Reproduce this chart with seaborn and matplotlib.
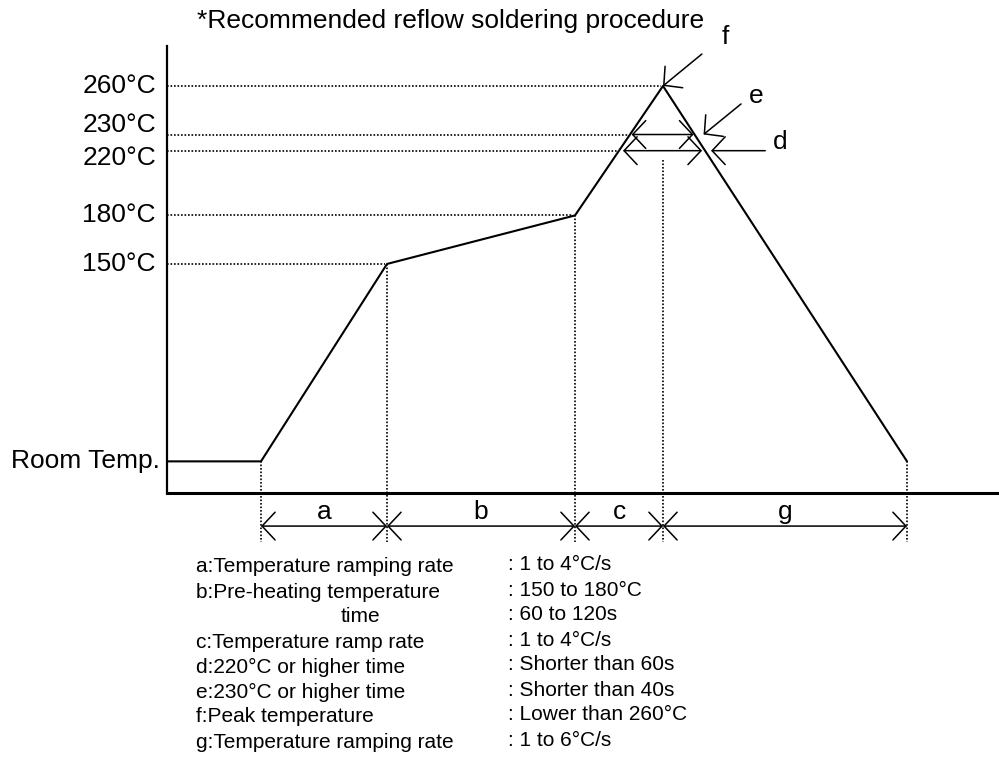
import numpy as np
import matplotlib
matplotlib.use("Agg")
import matplotlib.pyplot as plt
import seaborn as sns

# reflow profile (time in s, schematic)
profile_time = [0, 47, 110, 204, 248, 370]
profile_temp = [28, 28, 150, 180, 260, 28]

levels = [260, 230, 220, 180, 150]
level_labels = ["260°C", "230°C", "220°C", "180°C", "150°C"]
level_label_dy = [0, 7, -5, 0, 0]  # label nudge in points

segment_names = ["a", "b", "c", "g"]
segment_edges = [47, 110, 204, 248, 370]

legend_keys = [
    "a:Temperature ramping rate",
    "b:Pre-heating temperature",
    "c:Temperature ramp rate",
    "d:220°C or higher time",
    "e:230°C or higher time",
    "f:Peak temperature",
    "g:Temperature ramping rate",
]
legend_values = [
    ": 1 to 4°C/s",
    ": 150 to 180°C",
    ": 60 to 120s",
    ": 1 to 4°C/s",
    ": Shorter than 60s",
    ": Shorter than 40s",
    ": Lower than 260°C",
    ": 1 to 6°C/s",
]

sns.set_style("white")
plt.rcParams["font.family"] = ["Liberation Sans", "DejaVu Sans"]
plt.rcParams["text.color"] = "black"

W, H = 999, 770
fig = plt.figure(figsize=(W / 100, H / 100), dpi=100)
ax = fig.add_axes([167 / W, (H - 493) / H, (W - 167) / W, 447 / H])

ymin, ymax = 8.45, 284.7
ax.set_xlim(0, 416)
ax.set_ylim(ymin, ymax)
ax.set_xticks([])
ax.set_yticks([])
sns.despine(ax=ax)
ax.spines["left"].set_linewidth(1.6)
ax.spines["bottom"].set_linewidth(2.2)
ax.spines["left"].set_color("black")
ax.spines["bottom"].set_color("black")

dot = dict(color="black", lw=1.2, ls=(0, (1, 1.1)))
fs = 19

# main profile
sns.lineplot(x=profile_time, y=profile_temp, sort=False, color="black",
             lw=1.5, ax=ax, legend=False)

# rising / falling parts for intersections
rise_t = profile_time[1:5]
rise_T = profile_temp[1:5]
fall_t = profile_time[4:6][::-1]
fall_T = profile_temp[4:6][::-1]


def left_x(T):
    return np.interp(T, rise_T, rise_t)


def right_x(T):
    return np.interp(T, fall_T, fall_t)


# horizontal dotted levels + labels
for T, lab, dy in zip(levels, level_labels, level_label_dy):
    ax.plot([0, left_x(T) - 1], [T, T], **dot)
    ax.annotate(lab, xy=(0, T), xytext=(-8, dy), textcoords="offset points",
                ha="right", va="center", fontsize=fs, annotation_clip=False)

ax.annotate("Room Temp.", xy=(0, profile_temp[0]), xytext=(-5, 0),
            textcoords="offset points", ha="right", va="center",
            fontsize=fs, annotation_clip=False)

# vertical dotted drop lines
y_lo = ymin - 0.11 * (ymax - ymin)
drop_top = [profile_temp[1], profile_temp[2], profile_temp[3], 214, profile_temp[5]]
for x, top in zip(segment_edges, drop_top):
    ax.plot([x, x], [top, y_lo], clip_on=False, **dot)

# dimension arrows under the axis
xtr = ax.get_xaxis_transform()
arr = dict(arrowstyle="<->,head_length=0.47,head_width=0.5", color="black",
           lw=1.1, shrinkA=0, shrinkB=0, mutation_scale=20)
for name, x0, x1 in zip(segment_names, segment_edges[:-1], segment_edges[1:]):
    ax.annotate("", xy=(x1, -0.074), xytext=(x0, -0.074), xycoords=xtr,
                textcoords=xtr, arrowprops=arr, annotation_clip=False)
    ax.text((x0 + x1) / 2, -0.043, name, transform=xtr, ha="center",
            va="center", fontsize=fs)

# 230 / 220 width arrows at the peak
ax.annotate("", xy=(right_x(230) - 0.5, 230), xytext=(left_x(230) + 0.8, 230),
            arrowprops=arr)
ax.annotate("", xy=(right_x(220) - 1.5, 220), xytext=(left_x(220) + 2, 220),
            arrowprops=arr)

# pointer arrows f, e, d
ptr = dict(arrowstyle="->,head_length=0.47,head_width=0.5", color="black",
           lw=1.1, shrinkA=0, shrinkB=0, mutation_scale=20)
peak_t = profile_time[4]
ax.annotate("", xy=(peak_t, 260), xytext=(28, 23), textcoords="offset points",
            arrowprops=ptr)
ax.annotate("f", xy=(peak_t, 260), xytext=(45, 35), textcoords="offset points",
            ha="center", va="center", fontsize=fs)
ax.annotate("", xy=(right_x(230) + 4.5, 230), xytext=(27, 22),
            textcoords="offset points", arrowprops=ptr)
ax.annotate("e", xy=(right_x(230) + 4.5, 230), xytext=(38, 28),
            textcoords="offset points", ha="center", va="center", fontsize=fs)
ax.annotate("", xy=(right_x(220) + 3, 220), xytext=(39, 0),
            textcoords="offset points", arrowprops=ptr)
ax.annotate("d", xy=(right_x(220) + 3, 220), xytext=(50, 6),
            textcoords="offset points", ha="center", va="center", fontsize=fs)

# title
fig.text(197 / W, 1 - 28 / H, "*Recommended reflow soldering procedure",
         ha="left", va="baseline", fontsize=fs)

# legend block below the chart
key_rows = [567, 592, 642, 667, 692, 717, 742]
val_rows = [565, 590, 615, 640, 665, 690, 715, 740]
lfs = 15
for txt, y in zip(legend_keys, key_rows):
    fig.text(196 / W, 1 - y / H, txt, ha="left", va="center", fontsize=lfs)
fig.text(360 / W, 1 - 617 / H, "time", ha="center", va="center", fontsize=lfs)
for txt, y in zip(legend_values, val_rows):
    fig.text(508 / W, 1 - y / H, txt, ha="left", va="center", fontsize=lfs)

fig.savefig("out.png", dpi=100, facecolor="white")
